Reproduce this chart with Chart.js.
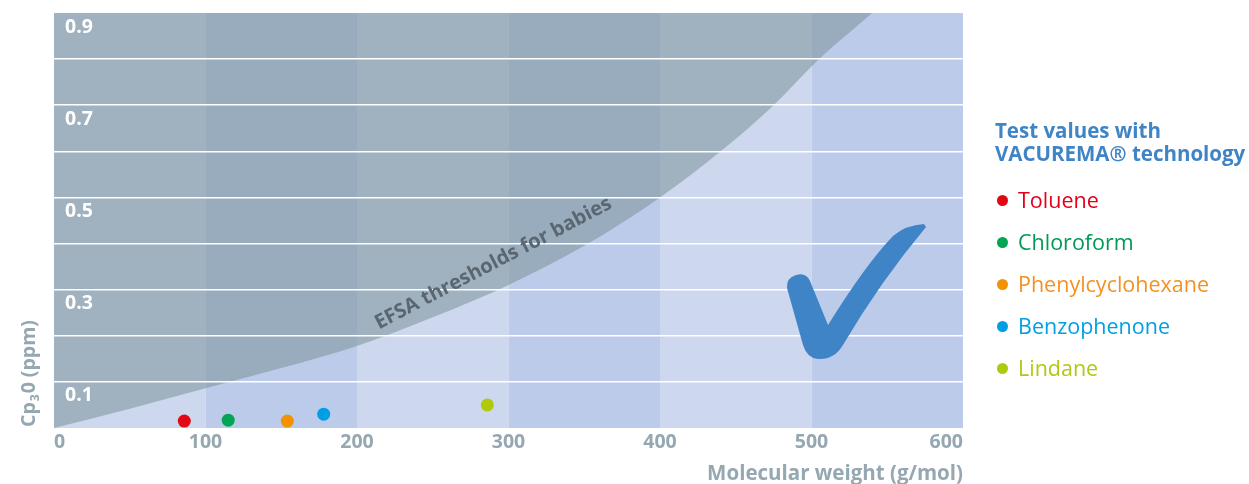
<!DOCTYPE html>
<html>
<head>
<meta charset="utf-8">
<script src="https://cdn.jsdelivr.net/npm/chart.js@4/dist/chart.umd.min.js"></script>
<style>
  html, body { margin: 0; padding: 0; background: #fff; }
  #wrap { position: relative; width: 1249px; height: 484px; font-family: "Open Sans", sans-serif; }
  #chart { position: absolute; left: 0; top: 0; }
  #legend { position: absolute; left: 995px; top: 119px; }
  #legend .title { color: #3f84c6; font-weight: bold; font-size: 20.5px; line-height: 23px; margin-bottom: 14px; white-space: nowrap; }
  #legend .item { font-size: 21.5px; line-height: 42px; height: 42px; white-space: nowrap; }
  #legend .dot { display: inline-block; width: 11px; height: 11px; border-radius: 50%; margin: 0 10px 0 2px; vertical-align: 2px; }
</style>
</head>
<body>
<div id="wrap">
  <canvas id="chart" width="1249" height="484"></canvas>
  <div id="legend"></div>
</div>
<script>
// compounds measured with VACUREMA
const compounds = ['Toluene', 'Chloroform', 'Phenylcyclohexane', 'Benzophenone', 'Lindane'];
const compoundMw = [86, 115, 154, 178, 286];
const compoundCp = [0.015, 0.017, 0.015, 0.030, 0.050];
const compoundColors = ['#e30613', '#00a651', '#f39200', '#009fe3', '#afca0b'];
const labelColors = ['#e2001a', '#009a55', '#f39224', '#00a0e3', '#b3c714'];

// EFSA threshold curve
const thresholdMw = [0, 50, 100, 150, 200, 250, 300, 350, 400, 440, 475, 505, 540, 570];
const thresholdCp = [0, 0.042, 0.086, 0.13, 0.178, 0.24, 0.31, 0.395, 0.50, 0.60, 0.70, 0.80, 0.90, 0.99];

const xTicks = [0, 100, 200, 300, 400, 500, 600];
const yTicks = [0, 0.1, 0.2, 0.3, 0.4, 0.5, 0.6, 0.7, 0.8, 0.9];
const yLabelled = [0.1, 0.3, 0.5, 0.7, 0.9];

const GREY = '#95a7b1';
const BAND_LIGHT = '#cdd7ee';
const BAND_DARK = '#bccbe9';

const backgroundPlugin = {
    id: 'bands',
    beforeDraw(chart) {
        const { ctx, chartArea, scales } = chart;
        ctx.save();
        for (let i = 0; i < xTicks.length - 1; i++) {
            const x0 = scales.x.getPixelForValue(xTicks[i]);
            const x1 = scales.x.getPixelForValue(xTicks[i + 1]);
            ctx.fillStyle = i % 2 === 0 ? BAND_LIGHT : BAND_DARK;
            ctx.fillRect(x0, chartArea.top, x1 - x0, chartArea.bottom - chartArea.top);
        }
        ctx.restore();
    }
};

const decorPlugin = {
    id: 'decor',
    afterDraw(chart) {
        const { ctx, chartArea, scales } = chart;

        // label along the threshold curve
        ctx.save();
        ctx.translate(scales.x.getPixelForValue(290), scales.y.getPixelForValue(0.357));
        ctx.rotate(-27.5 * Math.PI / 180);
        ctx.font = 'bold 20px "Open Sans"';
        ctx.fillStyle = '#5b6770';
        ctx.textAlign = 'center';
        ctx.textBaseline = 'middle';
        ctx.fillText('EFSA thresholds for babies', 0, 0);
        ctx.restore();

        // y axis title with subscript
        ctx.save();
        ctx.translate(29, chartArea.bottom - 1);
        ctx.rotate(-Math.PI / 2);
        ctx.fillStyle = GREY;
        ctx.textAlign = 'left';
        ctx.textBaseline = 'middle';
        ctx.font = 'bold 19.5px "Open Sans"';
        ctx.fillText('Cp', 0, 0);
        let w = ctx.measureText('Cp').width;
        ctx.font = 'bold 12px "Open Sans"';
        ctx.fillText('3', w + 1, 7);
        w += ctx.measureText('3').width + 2;
        ctx.font = 'bold 19.5px "Open Sans"';
        ctx.fillText('0 (ppm)', w, 0);
        ctx.restore();

        // check mark
        ctx.save();
        ctx.translate(chartArea.left - 54, chartArea.top - 13);
        ctx.fillStyle = '#3f84c6';
        ctx.beginPath();
        ctx.moveTo(787, 288);
        ctx.quadraticCurveTo(786, 278, 796, 275);
        ctx.quadraticCurveTo(806, 272, 810, 281);
        ctx.lineTo(828, 325);
        ctx.quadraticCurveTo(866, 264, 893, 236);
        ctx.quadraticCurveTo(906, 225, 924, 224);
        ctx.lineTo(926, 227);
        ctx.quadraticCurveTo(880, 282, 843, 345);
        ctx.quadraticCurveTo(834, 360, 818, 359);
        ctx.quadraticCurveTo(807, 358, 803, 345);
        ctx.closePath();
        ctx.fill();
        ctx.restore();
    }
};

const datasets = [{
    type: 'line',
    label: 'EFSA thresholds for babies',
    data: thresholdMw.map((mw, i) => ({ x: mw, y: thresholdCp[i] })),
    fill: 'end',
    backgroundColor: 'rgba(132,154,162,0.62)',
    borderWidth: 0,
    borderColor: 'rgba(0,0,0,0)',
    pointRadius: 0,
    cubicInterpolationMode: 'monotone',
    order: 2
}];
compounds.forEach((name, i) => {
    datasets.push({
        type: 'scatter',
        label: name,
        data: [{ x: compoundMw[i], y: compoundCp[i] }],
        backgroundColor: compoundColors[i],
        borderWidth: 0,
        pointRadius: 6.5,
        pointHoverRadius: 6.5,
        order: 1
    });
});

new Chart(document.getElementById('chart').getContext('2d'), {
    type: 'scatter',
    data: { datasets },
    options: {
        responsive: false,
        animation: false,
        events: [],
        layout: { padding: { left: 32, right: 286, top: 13, bottom: -2 } },
        plugins: { legend: { display: false }, tooltip: { enabled: false } },
        scales: {
            x: {
                type: 'linear',
                min: 0,
                max: 600,
                grid: { display: false, drawTicks: false },
                border: { display: false },
                afterBuildTicks: scale => { scale.ticks = xTicks.map(v => ({ value: v })); },
                afterFit: scale => { scale.paddingLeft = 0; scale.paddingRight = 0; },
                ticks: {
                    align: 'inner',
                    padding: 3,
                    color: GREY,
                    font: { family: 'Open Sans', size: 19.5, weight: 'bold' }
                },
                title: {
                    display: true,
                    text: 'Molecular weight (g/mol)',
                    align: 'end',
                    color: GREY,
                    padding: { top: 4, bottom: 0 },
                    font: { family: 'Open Sans', size: 20.5, weight: 'bold' }
                }
            },
            y: {
                type: 'linear',
                min: 0,
                max: 0.9,
                afterBuildTicks: scale => { scale.ticks = yTicks.map(v => ({ value: v })); },
                afterFit: scale => { scale.paddingTop = 0; scale.paddingBottom = 0; },
                grid: {
                    z: 1,
                    drawTicks: false,
                    lineWidth: 1.5,
                    color: ctx => (ctx.tick && ctx.tick.value > 0 && ctx.tick.value < 0.9) ? '#ffffff' : 'rgba(0,0,0,0)'
                },
                border: { display: false },
                ticks: {
                    z: 1,
                    mirror: true,
                    padding: 11,
                    labelOffset: 14,
                    color: '#ffffff',
                    font: { family: 'Open Sans', size: 19.5, weight: 'bold' },
                    callback: v => yLabelled.some(l => Math.abs(l - v) < 1e-6) ? v.toFixed(1) : ''
                }
            }
        }
    },
    plugins: [backgroundPlugin, decorPlugin]
});

const legend = document.getElementById('legend');
legend.innerHTML = '<div class="title">Test values with<br>VACUREMA® technology</div>';
compounds.forEach((name, i) => {
    const item = document.createElement('div');
    item.className = 'item';
    item.style.color = labelColors[i];
    item.innerHTML = `<span class="dot" style="background:${compoundColors[i]}"></span>${name}`;
    legend.appendChild(item);
});
</script>
</body>
</html>
